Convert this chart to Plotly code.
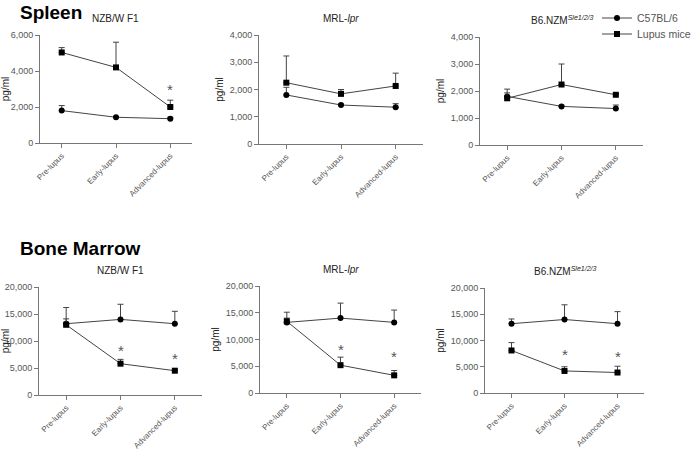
import plotly.graph_objects as go

stages = ['Pre-lupus', 'Early-lupus', 'Advanced-lupus']
strains = ['NZB/W F1', 'MRL-<i>lpr</i>', 'B6.NZM<sup><i>Sle1/2/3</i></sup>']

# spleen, pg/ml (mean and upper error)
spleen_c57 = [[1800, 1430, 1350], [1800, 1430, 1350], [1800, 1430, 1350]]
spleen_c57_err = [[280, 40, 80], [280, 40, 130], [270, 40, 130]]
spleen_lupus = [[5030, 4200, 2000], [2250, 1840, 2130], [1730, 2240, 1860]]
spleen_lupus_err = [[270, 1400, 380], [980, 160, 470], [200, 760, 50]]
spleen_stars = [[(2, 3000)], [], []]

# bone marrow, pg/ml
bm_c57 = [[13200, 14000, 13200], [13200, 14000, 13200], [13200, 14000, 13200]]
bm_c57_err = [[3000, 2800, 2300], [1900, 2800, 2300], [900, 2800, 2300]]
bm_lupus = [[13000, 5800, 4500], [13400, 5200, 3300], [8100, 4200, 3900]]
bm_lupus_err = [[1100, 800, 150], [600, 1500, 900], [1500, 800, 1200]]
bm_stars = [[(1, 8200), (2, 6800)], [(1, 8100), (2, 6900)], [(1, 7300), (2, 6900)]]

W, H = 700, 451
# panel boxes in pixels: x0, x1, ytop, ybottom, xrange
boxes = [
    (40, 192, 35, 143, [-0.4, 2.4]),
    (259, 423, 35, 144, [-0.5, 2.5]),
    (480, 643, 37, 145, [-0.5, 2.5]),
    (39, 202, 287, 395, [-0.5, 2.5]),
    (260, 421, 286, 393, [-0.5, 2.5]),
    (485, 644, 288, 393, [-0.5, 2.5]),
]
font = 'Liberation Sans, Arial, sans-serif'
grey = '#555555'

fig = go.Figure()
annotations = []

panels = []
for i in range(3):
    panels.append((spleen_c57[i], spleen_c57_err[i], spleen_lupus[i],
                   spleen_lupus_err[i], spleen_stars[i], [0, 2000, 4000, 6000] if i == 0 else [0, 1000, 2000, 3000, 4000]))
for i in range(3):
    panels.append((bm_c57[i], bm_c57_err[i], bm_lupus[i], bm_lupus_err[i],
                   bm_stars[i], [0, 5000, 10000, 15000, 20000]))

for k, (c57, c57e, lup, lupe, stars, yt) in enumerate(panels):
    x0, x1, yt0, yb0, xr = boxes[k]
    n = '' if k == 0 else str(k + 1)
    xa, ya = 'x' + n, 'y' + n
    for vals, errs, sym, name, lg in [(c57, c57e, 'circle', 'C57BL/6', 'legend'),
                                      (lup, lupe, 'square', 'Lupus mice', 'legend2')]:
        fig.add_trace(go.Scatter(
            x=[0, 1, 2], y=vals, mode='lines+markers', name=name,
            showlegend=(k == 0), legend=lg, xaxis=xa, yaxis=ya,
            line=dict(color='#444444', width=1),
            marker=dict(symbol=sym, size=6, color='black'),
            error_y=dict(type='data', symmetric=False, array=errs,
                         arrayminus=[0, 0, 0], color='#444444',
                         thickness=1, width=3),
        ))
    axx = dict(domain=[x0 / W, x1 / W], range=xr, anchor=ya,
               tickvals=[0, 1, 2], ticktext=stages, tickangle=-45,
               showline=True, linecolor='#777777', linewidth=1,
               ticks='outside', ticklen=4, tickcolor='#777777',
               showgrid=False, zeroline=False, automargin=False,
               tickfont=dict(size=8, color=grey, family=font))
    axy = dict(domain=[1 - yb0 / H, 1 - yt0 / H], range=[0, yt[-1]],
               anchor=xa, tickvals=yt, tickformat=',',
               showline=True, linecolor='#777777', linewidth=1,
               ticks='outside', ticklen=4, tickcolor='#777777',
               showgrid=False, zeroline=False, automargin=False,
               tickfont=dict(size=9, color=grey, family=font),
               title=dict(text='pg/ml', standoff=4,
                          font=dict(size=10, color='#222222', family=font)))
    fig.layout['xaxis' + n] = axx
    fig.layout['yaxis' + n] = axy
    for sx, sy in stars:
        annotations.append(dict(x=sx, y=sy, xref=xa, yref=ya, text='*',
                                showarrow=False, yanchor='middle',
                                font=dict(size=15, color=grey, family=font)))
    # strain title
    annotations.append(dict(x=(x0 + x1) / 2 / W, y=1 - (yt0 - 17) / H,
                            xref='paper', yref='paper', text=strains[k % 3],
                            showarrow=False, xanchor='center', yanchor='middle',
                            font=dict(size=10, color='#222222', family=font)))

annotations.append(dict(x=18 / W, y=1 - 12 / H, xref='paper', yref='paper',
                        text='<b>Spleen</b>', showarrow=False, xanchor='left',
                        yanchor='middle', font=dict(size=19, color='black', family=font)))
annotations.append(dict(x=18 / W, y=1 - 248 / H, xref='paper', yref='paper',
                        text='<b>Bone Marrow</b>', showarrow=False, xanchor='left',
                        yanchor='middle', font=dict(size=19, color='black', family=font)))

leg = dict(x=597 / W, xanchor='left', yanchor='middle',
           font=dict(size=10.5, color=grey, family=font),
           bgcolor='rgba(0,0,0,0)', itemwidth=30)
fig.update_layout(
    width=W, height=H, margin=dict(l=0, r=0, t=0, b=0),
    paper_bgcolor='white', plot_bgcolor='white',
    annotations=annotations,
    legend=dict(leg, y=1 - 18 / H),
    legend2=dict(leg, y=1 - 34 / H),
)

fig.write_html("out.html", config={'displayModeBar': False},
               post_script="document.body.style.margin='0';")
